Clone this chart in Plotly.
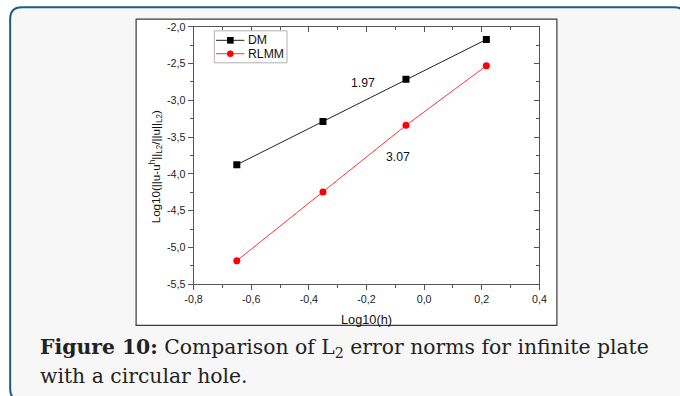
import plotly.graph_objects as go

# ---- data ----
log_h = [-0.650, -0.351, -0.063, 0.216]
dm_err = [-3.875, -3.287, -2.712, -2.172]
rlmm_err = [-5.180, -4.245, -3.340, -2.530]

slope_labels = ["1.97", "3.07"]
slope_x = [-0.213, -0.089]
slope_y = [-2.76, -3.765]

x_tickvals = [-0.8, -0.6, -0.4, -0.2, 0.0, 0.2, 0.4]
x_ticktext = ["-0,8", "-0,6", "-0,4", "-0,2", "0,0", "0,2", "0,4"]
y_tickvals = [-2.0, -2.5, -3.0, -3.5, -4.0, -4.5, -5.0, -5.5]
y_ticktext = ["-2,0", "-2,5", "-3,0", "-3,5", "-4,0", "-4,5", "-5,0", "-5,5"]

W, H = 680, 396
# the page is shown with the default 8px body margin and scaled back to 680x396;
# convert target pixel positions into figure coordinates accordingly
SX, SY = (W + 16) / W, (H + 16) / H
def fx(X):
    return X * SX - 8
def fy(Y):
    return Y * SY - 8
def px(X):
    return fx(X) / W
def py(Y):
    return 1 - fy(Y) / H

FS = 1.02  # font compensation

X0, X1 = 192.5, 538.5
Y0, Y1 = 28.3, 283.5
XR = [-0.8, 0.4]
YR = [-5.5, -2.0]

fig = go.Figure()
fig.add_trace(go.Scatter(x=log_h, y=dm_err, mode="lines+markers", name="DM",
                         line=dict(color="#222222", width=1),
                         marker=dict(symbol="square", size=7, color="#000000", line=dict(width=0)),
                         showlegend=False))
fig.add_trace(go.Scatter(x=log_h, y=rlmm_err, mode="lines+markers", name="RLMM",
                         line=dict(color="#ff3333", width=1),
                         marker=dict(symbol="circle", size=7, color="#ff0000", line=dict(width=0)),
                         showlegend=False))
fig.add_trace(go.Scatter(x=[None], y=[None], xaxis="x2", yaxis="y2", showlegend=False, hoverinfo="skip"))

shapes = []
# card with rounded corners (figure-space fractions)
cl, ct, cr, cb, r = 1.2, 1.2, 693, 407, 12
def qx(v):
    return v / W
def qy(v):
    return 1 - v / H
path = (f"M {qx(cl)} {qy(ct + r)} Q {qx(cl)} {qy(ct)} {qx(cl + r)} {qy(ct)} "
        f"L {qx(cr - r)} {qy(ct)} Q {qx(cr)} {qy(ct)} {qx(cr)} {qy(ct + r)} "
        f"L {qx(cr)} {qy(cb - r)} Q {qx(cr)} {qy(cb)} {qx(cr - r)} {qy(cb)} "
        f"L {qx(cl + r)} {qy(cb)} Q {qx(cl)} {qy(cb)} {qx(cl)} {qy(cb - r)} Z")
shapes.append(dict(type="path", xref="paper", yref="paper", path=path,
                   fillcolor="#f7f7f7", line=dict(color="#1d5f78", width=2), layer="below"))
# white chart box
shapes.append(dict(type="rect", xref="paper", yref="paper",
                   x0=px(135), x1=px(556), y0=py(324.3), y1=py(20.7),
                   fillcolor="#ffffff", line=dict(color="#3a3a3a", width=1.2), layer="below"))
# manual legend
lg_l, lg_t, lg_r, lg_b = 213.3, 32.3, 286, 64
shapes.append(dict(type="rect", xref="paper", yref="paper",
                   x0=px(lg_l), x1=px(lg_r), y0=py(lg_b), y1=py(lg_t),
                   fillcolor="#ffffff", line=dict(color="#b0b0b0", width=1), layer="above"))
rows = [(41.7, "#222222", "#000000", "rect", "DM"), (55.0, "#ff3333", "#ff0000", "circle", "RLMM")]
annotations = []
for yy, lc, mc, kind, label in rows:
    shapes.append(dict(type="line", xref="paper", yref="paper",
                       x0=px(215), x1=px(243.3), y0=py(yy), y1=py(yy),
                       line=dict(color=lc, width=1), layer="above"))
    shapes.append(dict(type=kind, xref="paper", yref="paper",
                       x0=px(229.3 - 3.3), x1=px(229.3 + 3.3), y0=py(yy + 3.3), y1=py(yy - 3.3),
                       fillcolor=mc, line=dict(width=0), layer="above"))
    annotations.append(dict(xref="paper", yref="paper", x=px(246.2), y=py(yy), text=label,
                            showarrow=False, xanchor="left", yanchor="middle", borderpad=0,
                            font=dict(family="Liberation Sans, Arial", size=12 * FS, color="#111111")))

for t, xx, yy in zip(slope_labels, slope_x, slope_y):
    annotations.append(dict(xref="x", yref="y", x=xx, y=yy, text=t, showarrow=False,
                            xanchor="center", yanchor="middle",
                            font=dict(family="Liberation Sans, Arial", size=12 * FS, color="#111111")))

# axis titles
annotations.append(dict(xref="paper", yref="paper", x=px(365.5), y=py(318.5), text="Log10(h)",
                        showarrow=False, xanchor="center", yanchor="middle",
                        font=dict(family="Liberation Sans, Arial", size=12.5 * FS, color="#111111")))
annotations.append(dict(xref="paper", yref="paper", x=px(154.5), y=py(167),
                        text="Log10(||u-u<sup>h</sup>||<sub>L2</sub>/||u||<sub>L2</sub>)",
                        textangle=-90, showarrow=False, xanchor="center", yanchor="middle",
                        font=dict(family="Liberation Sans, Arial", size=11.4 * FS, color="#111111")))

# caption
capfont = dict(family="DejaVu Serif, serif", size=20.35, color="#222222")
annotations.append(dict(xref="paper", yref="paper", x=px(37), y=py(346.5), align="left",
                        text="<b>Figure 10:</b> Comparison of L<sub>2</sub> error norms for infinite plate",
                        showarrow=False, xanchor="left", yanchor="middle", font=capfont))
annotations.append(dict(xref="paper", yref="paper", x=px(37), y=py(374), align="left",
                        text="with a circular hole.",
                        showarrow=False, xanchor="left", yanchor="middle", font=capfont))

tickfont = dict(family="Liberation Sans, Arial", size=10.5 * FS, color="#222222")
axcol = "#555555"
fig.update_layout(
    width=W, height=H,
    margin=dict(l=0, r=0, t=0, b=0, pad=0),
    paper_bgcolor="#ffffff", plot_bgcolor="rgba(0,0,0,0)",
    showlegend=False,
    shapes=shapes, annotations=annotations,
    xaxis=dict(domain=[px(X0), px(X1)], range=XR, showgrid=False, zeroline=False,
               showline=True, mirror=True, linecolor=axcol, linewidth=1,
               ticks="outside", ticklen=5, tickwidth=1, tickcolor=axcol,
               tickvals=x_tickvals, ticktext=x_ticktext, tickfont=tickfont,
               minor=dict(ticks="outside", ticklen=3, dtick=0.1, tick0=0, tickcolor=axcol, showgrid=False),
               anchor="y"),
    yaxis=dict(domain=[py(Y1), py(Y0)], range=YR, showgrid=False, zeroline=False,
               showline=True, mirror=True, linecolor=axcol, linewidth=1,
               ticks="outside", ticklen=5, tickwidth=1, tickcolor=axcol,
               tickvals=y_tickvals, ticktext=y_ticktext, tickfont=tickfont,
               minor=dict(ticks="outside", ticklen=3, dtick=0.25, tick0=0, tickcolor=axcol, showgrid=False),
               anchor="x"),
    xaxis2=dict(overlaying="x", side="top", anchor="y", range=XR, showgrid=False, zeroline=False,
                showline=False, ticks="inside", ticklen=5, tickcolor=axcol, tickvals=x_tickvals,
                showticklabels=False,
                minor=dict(ticks="inside", ticklen=3, dtick=0.1, tick0=0, tickcolor=axcol, showgrid=False)),
    yaxis2=dict(overlaying="y", side="right", anchor="x", range=YR, showgrid=False, zeroline=False,
                showline=False, ticks="inside", ticklen=5, tickcolor=axcol, tickvals=y_tickvals,
                showticklabels=False,
                minor=dict(ticks="inside", ticklen=3, dtick=0.25, tick0=0, tickcolor=axcol, showgrid=False)),
)
fig.write_html("out.html")
